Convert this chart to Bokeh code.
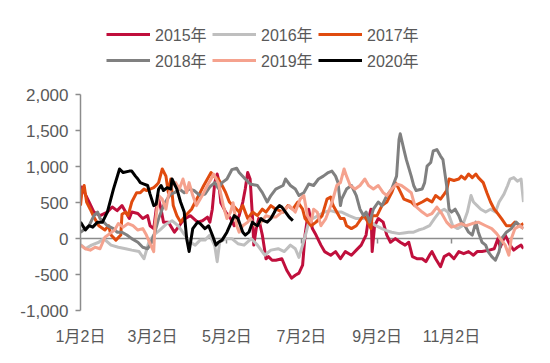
from bokeh.plotting import figure
from bokeh.models import (Range1d, FixedTicker, NumeralTickFormatter, LinearAxis,
                          Legend, LegendItem)
from bokeh.embed import file_html
from bokeh.resources import INLINE

# ---------------- data (day offset from Jan 2, value) ----------------
series_names = ["2015年", "2016年", "2017年", "2018年", "2019年", "2020年"]
series_colors = ["#C00F3C", "#BFBFBF", "#E04B0F", "#808080", "#F5A28E", "#000000"]

days15 = [0,1,7,11,16,22,26,30,34,37,40,42,47,51,55,57,60,62,64,66,68,72,77,81,83,86,90,96,100,104,
          106,108,110,112,113,115,119,123,126,130,133,135,137,139,141,142,144,146,149,152,154,157,160,165,
          169,173,176,179,182,184,187,190,193,197,200,205,209,213,217,222,226,230,234,236,238,239,241,244,
          248,251,254,258,262,266,269,272,276,280,283,286,288,291,295,298,302,306,310,314,318,322,325,329,
          335,339,342,344,348,352,355,358,361,363]
vals15 = [550,720,510,370,320,370,440,390,460,370,280,370,350,280,320,180,140,410,550,410,230,230,90,180,
          230,280,320,230,250,300,230,410,780,900,830,500,370,280,180,320,510,690,920,830,280,-90,140,280,
          50,-280,-250,-300,-300,-280,-440,-550,-510,-480,-370,50,410,140,50,-90,-180,-230,-180,-280,-180,
          -230,-160,-90,50,280,410,-180,180,280,230,50,-50,0,-50,-90,-50,-250,-280,-280,-320,-230,-180,-280,
          -390,-250,-210,-280,-180,-210,-180,-230,-180,-180,-160,-140,0,-120,50,-90,-160,-120,-90,-140]

days16 = [0,4,9,15,19,25,31,37,42,48,52,56,60,65,70,75,80,85,90,94,98,102,106,110,112,114,119,124,129,134,
          140,145,151,156,162,167,172,176,179,182,185,187,190,195,200,205,209,214,220,226,233,238,242,247,
          251,255,261,265,269,273,277,281,286,290,294,298,301,305,309,313,317,320,322,325,328,332,336,340,
          343,347,350,352,355,358,361,363]
vals16 = [-80,-140,-90,-50,0,-90,-120,-140,-160,-180,-280,-50,50,120,200,250,180,60,-50,-90,-20,-20,50,
          -100,-320,-50,0,0,-70,-90,0,-90,-230,-160,-140,-180,-90,-140,-260,-90,90,230,280,320,370,390,
          370,370,320,280,280,230,180,140,110,90,70,80,90,90,120,140,180,280,370,410,370,180,140,180,370,
          600,510,460,410,370,410,370,510,620,740,830,850,800,830,510]

days17 = [0,1,3,5,8,11,15,20,23,25,29,33,34,37,39,42,46,49,52,54,57,60,62,64,67,70,72,74,76,79,82,86,91,
          94,98,101,104,107,109,113,116,119,122,125,130,133,137,141,145,149,152,156,160,166,170,174,178,
          182,184,189,193,198,202,205,207,210,213,216,218,222,226,230,232,234,238,239,243,247,251,255,258,
          261,265,271,274,280,284,288,291,295,298,300,302,306,310,312,315,318,321,324,326,330,333,336,339,
          341,345,349,353,356,360,363]
vals17 = [460,640,740,510,410,300,180,120,180,50,-20,50,340,370,320,510,640,640,690,670,690,710,740,780,
          970,870,640,830,460,320,230,320,410,510,640,740,830,920,870,830,740,640,510,460,370,460,280,370,
          320,410,370,460,410,370,460,410,510,410,280,180,230,320,550,580,460,370,280,280,180,140,180,280,
          320,280,140,320,320,460,510,640,780,690,550,510,460,510,550,510,600,550,620,670,830,810,830,870,
          830,900,850,900,850,780,640,510,410,370,280,180,180,230,180,210]

days18 = [0,4,7,11,14,16,19,22,27,30,34,38,42,47,51,55,57,61,64,68,71,74,77,81,85,89,93,98,102,106,110,
          113,116,120,124,128,130,135,139,145,149,153,156,160,166,168,172,176,179,183,187,191,195,199,203,
          206,209,211,213,214,218,222,226,229,232,234,237,240,244,247,251,255,259,261,262,265,267,271,273,
          275,280,282,284,287,289,292,295,297,300,302,304,307,310,312,315,318,321,324,326,329,332,334,337,
          340,343,345,349,353,357,360,363]
vals18 = [90,140,180,320,370,280,230,180,140,90,90,50,0,-50,-120,-140,-90,90,280,460,550,620,640,690,640,
          690,670,600,620,720,780,700,780,830,960,980,920,830,760,740,640,510,600,690,740,830,740,690,600,
          640,760,740,830,870,920,940,870,780,460,550,690,740,600,410,320,370,230,410,510,460,600,690,870,
          1380,1460,1240,1100,870,740,670,690,780,1010,1060,1220,1240,1150,1100,740,410,370,410,320,230,
          180,90,50,230,90,-50,-90,-180,-250,-300,-180,0,90,140,230,180,140]

days19 = [0,4,8,12,16,20,24,28,31,35,39,43,47,51,54,57,60,61,64,67,70,72,75,78,81,84,87,89,92,95,98,101,
          104,107,109,113,117,120,123,125,128,130,133,137,139,143,148,152,156,160,165,171,176,180,183,186,
          189,191,194,197,201,206,210,213,216,218,221,225,229,233,236,240,244,248,251,255,259,263,267,271,
          274,280,284,288,292,296,300,304,308,312,316,321,326,332,337,341,344,348,351,353,356,360,363]
vals19 = [-90,-140,-160,-120,-140,20,70,120,210,160,210,180,120,140,50,-70,-180,180,600,550,410,600,740,
          780,690,830,640,780,600,460,550,640,740,830,900,780,460,280,370,500,180,90,180,230,280,180,230,
          320,300,300,370,460,370,550,600,320,230,410,370,180,280,500,740,780,970,870,740,690,740,830,740,
          690,740,640,600,690,760,740,690,640,460,370,320,350,440,350,230,160,180,210,180,210,230,180,140,
          70,0,-90,-230,0,140,180,140]

days20 = [0,4,7,10,14,18,22,27,32,35,40,42,45,47,49,52,55,57,60,62,64,66,68,71,74,75,77,79,82,85,86,87,
          89,92,96,98,102,105,108,111,113,116,120,126,129,133,135,138,141,142,145,148,150,153,156,159,160,
          163,165,168,171,174]
vals20 = [230,120,180,160,230,230,370,690,970,920,940,940,870,830,780,760,740,620,460,480,690,740,670,710,
          690,830,760,690,510,370,180,0,-180,140,230,210,140,180,50,-90,-50,-20,90,320,280,90,50,90,230,210,
          180,280,250,230,280,370,410,460,440,370,300,250]

series_days = [days15, days16, days17, days18, days19, days20]
series_vals = [vals15, vals16, vals17, vals18, vals19, vals20]

x_tick_days = [0, 59, 120, 181, 243, 304]
x_tick_labels = ["1月2日", "3月2日", "5月2日", "7月2日", "9月2日", "11月2日"]
y_ticks = [-1000, -500, 0, 500, 1000, 1500, 2000]

# ---------------- layout ----------------
FONT = "Liberation Sans, Noto Sans CJK SC"
AXIS_GREY = "#8C8C8C"
TEXT_GREY = "#595959"

W, H = 534, 347
LEFT, RIGHT, TOP, BOTTOM = 80, 11, 16, 35
axis_px = 217                      # pixel height of the -1000..2000 axis
frame_h = H - TOP - BOTTOM
y_lo, y_hi = y_ticks[0], y_ticks[-1]
y_top = y_lo + (y_hi - y_lo) * frame_h / axis_px   # headroom above 2000 for the legend

p = figure(width=W, height=H, x_range=Range1d(0, 363), y_range=Range1d(y_lo, y_top),
           output_backend="svg", toolbar_location=None,
           min_border_left=LEFT, min_border_right=RIGHT, min_border_top=TOP, min_border_bottom=BOTTOM)
p.outline_line_color = None
p.grid.visible = False
p.background_fill_color = "white"
p.border_fill_color = "white"

# zero line with tick marks (x axis crossing at 0)
zero_axis = LinearAxis(fixed_location=0, ticker=FixedTicker(ticks=x_tick_days),
                       axis_line_color=AXIS_GREY, axis_line_width=1.5,
                       major_tick_line_color=AXIS_GREY, major_tick_line_width=1.5,
                       major_tick_out=5, major_tick_in=0, minor_tick_line_color=None,
                       major_label_overrides={d: "" for d in x_tick_days},
                       major_label_text_font_size="0px", major_label_standoff=0,
                       major_label_text_alpha=0, level="underlay")
p.add_layout(zero_axis, "below")

renderers = []
for name, color, d, v in zip(series_names, series_colors, series_days, series_vals):
    r = p.line(d, v, line_color=color, line_width=3, line_join="round")
    renderers.append(r)

# bottom category labels
xa = p.xaxis[0]
xa.ticker = FixedTicker(ticks=x_tick_days)
xa.major_label_overrides = dict(zip(x_tick_days, x_tick_labels))
xa.axis_line_color = None
xa.major_tick_line_color = None
xa.minor_tick_line_color = None
xa.major_label_standoff = 11
xa.major_label_text_font = FONT
xa.major_label_text_font_size = "16px"
xa.major_label_text_color = TEXT_GREY

ya = p.yaxis[0]
ya.ticker = FixedTicker(ticks=y_ticks)
ya.bounds = (y_lo, y_hi)
ya.formatter = NumeralTickFormatter(format="0,0")
ya.axis_line_color = AXIS_GREY
ya.axis_line_width = 1.5
ya.major_tick_line_color = AXIS_GREY
ya.major_tick_line_width = 1.5
ya.major_tick_out = 5
ya.major_tick_in = 0
ya.minor_tick_line_color = None
ya.major_label_standoff = 7
ya.major_label_text_font = FONT
ya.major_label_text_font_size = "17px"
ya.major_label_text_color = TEXT_GREY

legend = Legend(items=[LegendItem(label=n, renderers=[r]) for n, r in zip(series_names, renderers)],
                location=(26, 238), orientation="horizontal", ncols=3,
                glyph_width=44, glyph_height=16, label_height=16, label_width=55, label_standoff=5,
                spacing=2, padding=0, margin=0,
                label_text_font=FONT, label_text_font_size="16px", label_text_color=TEXT_GREY,
                border_line_color=None, background_fill_alpha=0)
p.add_layout(legend, "center")

open("out.html", "w").write(file_html(p, INLINE))
